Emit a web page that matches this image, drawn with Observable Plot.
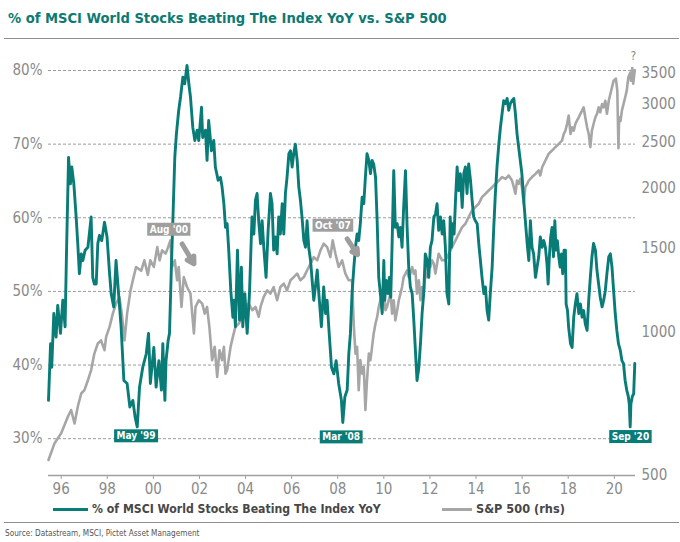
<!DOCTYPE html>
<html>
<head>
<meta charset="utf-8">
<script src="https://cdn.jsdelivr.net/npm/d3@7"></script>
<script src="https://cdn.jsdelivr.net/npm/@observablehq/plot@0.6"></script>
<style>
  html, body { margin: 0; padding: 0; background: #fff; }
  #wrap { position: relative; width: 680px; height: 542px; overflow: hidden;
          font-family: "Liberation Sans Narrow", "DejaVu Sans Condensed", sans-serif; }
  #title { position: absolute; left: 8px; top: 7px; font-weight: bold; font-size: 18px;
           color: #0d7a73; white-space: nowrap; line-height: 22px; }
  .hr { position: absolute; left: 4px; width: 675px; height: 0; border-top: 1.5px solid #8f8f8f; }
  #chart { position: absolute; left: 0; top: 45px; }
  .leg-line { position: absolute; height: 3px; }
  .leg-text { position: absolute; font-weight: bold; font-size: 15px; color: #474747;
              white-space: nowrap; line-height: 18px; }
  #source { position: absolute; left: 5px; top: 527px; font-size: 10px; color: #555;
            white-space: nowrap; line-height: 12px; }
</style>
</head>
<body>
<div id="wrap">
  <div id="title">% of MSCI World Stocks Beating The Index YoY vs. S&amp;P 500</div>
  <div class="hr" style="top:38px"></div>
  <div id="chart"></div>
  <div class="leg-line" style="left:53px; top:508px; width:35px; background:#0a7c78"></div>
  <div class="leg-text" id="leg1" style="left:92px; top:500px">% of MSCI World Stocks Beating The Index YoY</div>
  <div class="leg-line" style="left:442px; top:508px; width:30px; background:#a6a6a6"></div>
  <div class="leg-text" id="leg2" style="left:476px; top:500px">S&amp;P 500 (rhs)</div>
  <div class="hr" style="top:522px"></div>
  <div id="source">Source: Datastream, MSCI, Pictet Asset Management</div>
</div>
<script>
// ---------------- data ----------------
// % of MSCI World stocks beating the index YoY: [decimal year, %]
const msciBeating = [
[1995.45,35.2],[1995.54,42.9],[1995.59,39.7],[1995.68,47.0],[1995.78,43.8],[1995.85,48.1],[1995.97,44.3],[1996.07,48.8],[1996.17,45.2],[1996.23,55.1],[1996.32,68.2],[1996.40,64.6],[1996.46,66.9],[1996.55,64.6],[1996.65,60.1],[1996.72,56.5],[1996.79,52.4],[1996.87,55.1],[1996.94,54.2],[1997.04,55.6],[1997.16,56.0],[1997.30,60.1],[1997.37,51.9],[1997.44,51.0],[1997.52,51.0],[1997.59,56.5],[1997.66,57.6],[1997.76,56.9],[1997.88,59.4],[1997.99,57.4],[1998.10,52.4],[1998.17,49.7],[1998.28,47.9],[1998.38,54.2],[1998.49,49.7],[1998.60,45.2],[1998.72,37.9],[1998.86,37.5],[1998.98,34.3],[1999.11,35.2],[1999.21,32.9],[1999.30,31.6],[1999.40,37.0],[1999.54,39.7],[1999.69,41.5],[1999.79,44.3],
[1999.87,37.5],[2000.02,42.4],[2000.12,37.0],[2000.24,40.6],[2000.35,36.6],[2000.41,42.9],[2000.50,35.2],[2000.55,40.6],[2000.64,43.3],[2000.70,44.3],[2000.79,54.2],[2000.86,61.0],[2000.93,68.2],[2001.00,71.4],[2001.10,74.6],[2001.18,76.4],[2001.28,79.1],[2001.36,78.2],[2001.46,80.7],[2001.54,78.2],[2001.61,76.4],[2001.71,72.3],[2001.80,70.5],[2001.90,71.9],[2001.97,70.5],[2002.09,75.0],[2002.14,70.9],[2002.26,71.9],[2002.33,67.8],[2002.40,73.2],[2002.52,69.1],[2002.62,70.5],[2002.69,66.9],[2002.81,65.1],[2002.91,65.5],[2002.98,64.2],[2003.06,61.9],[2003.13,58.7],[2003.20,59.2],[2003.27,55.6],[2003.36,50.1],[2003.45,46.5],[2003.50,48.8],[2003.56,45.2],[2003.65,55.6],[2003.74,46.1],[2003.82,53.3],[2003.88,45.2],[2003.97,49.7],[2004.07,44.3],[2004.17,49.7],
[2004.28,60.1],[2004.36,57.8],[2004.43,62.4],[2004.50,63.3],[2004.57,59.6],[2004.65,56.5],[2004.72,59.6],[2004.79,56.0],[2004.89,51.9],[2004.98,58.3],[2005.08,63.3],[2005.15,61.9],[2005.22,55.6],[2005.30,57.4],[2005.37,55.1],[2005.44,60.1],[2005.51,57.8],[2005.59,61.9],[2005.66,57.8],[2005.73,63.3],[2005.80,65.5],[2005.88,68.7],[2005.95,69.1],[2006.02,66.9],[2006.09,68.7],[2006.16,70.0],[2006.24,67.8],[2006.31,64.2],[2006.38,62.4],[2006.45,60.1],[2006.53,56.9],[2006.60,56.0],[2006.67,59.6],[2006.74,56.0],[2006.82,54.2],[2006.89,51.5],[2006.96,48.8],[2007.03,50.6],[2007.11,52.9],[2007.18,49.7],[2007.29,45.2],[2007.39,50.6],[2007.47,47.0],[2007.54,48.8],[2007.61,45.2],[2007.73,39.7],[2007.83,38.8],[2007.93,40.6],[2008.04,37.5],[2008.16,35.2],[2008.22,32.2],[2008.31,35.7],
[2008.41,36.6],[2008.48,41.5],[2008.55,44.3],[2008.62,49.7],[2008.70,53.3],[2008.77,56.0],[2008.84,57.8],[2008.91,56.9],[2008.98,59.2],[2009.06,62.8],[2009.13,61.9],[2009.20,65.5],[2009.27,68.7],[2009.35,67.8],[2009.42,66.0],[2009.49,67.8],[2009.56,67.3],[2009.64,65.5],[2009.71,59.6],[2009.78,51.9],[2009.85,49.7],[2009.93,47.0],[2010.00,54.2],[2010.04,48.8],[2010.10,51.5],[2010.18,49.7],[2010.24,51.9],[2010.30,49.2],[2010.36,56.5],[2010.43,66.4],[2010.50,58.7],[2010.58,59.2],[2010.65,57.4],[2010.72,58.7],[2010.79,56.0],[2010.86,61.4],[2010.94,66.4],[2011.01,58.7],[2011.08,53.3],[2011.15,50.6],[2011.23,49.7],[2011.30,46.1],[2011.37,42.0],[2011.44,37.9],[2011.52,39.7],[2011.59,42.9],[2011.66,47.0],[2011.73,49.7],[2011.80,55.1],[2011.88,54.2],[2011.95,51.9],[2012.02,56.0],[2012.09,56.9],[2012.17,60.1],[2012.24,60.5],[2012.31,61.9],[2012.38,58.3],[2012.46,60.1],[2012.53,57.8],[2012.60,59.6],[2012.67,56.0],[2012.74,49.7],
[2012.82,48.3],[2012.88,60.1],[2012.93,56.0],[2012.99,59.2],[2013.05,57.8],[2013.11,62.4],[2013.18,66.9],[2013.25,63.7],[2013.32,66.0],[2013.40,61.4],[2013.47,66.0],[2013.54,66.9],[2013.61,63.3],[2013.68,67.3],[2013.76,65.1],[2013.83,62.4],[2013.90,60.1],[2013.97,59.6],[2014.05,59.2],[2014.12,56.5],[2014.19,54.2],[2014.26,51.9],[2014.34,49.7],[2014.41,50.6],[2014.48,47.4],[2014.55,46.1],[2014.62,49.7],[2014.70,53.3],[2014.77,58.7],[2014.84,63.3],[2014.91,66.9],[2014.99,70.0],[2015.06,72.3],[2015.13,74.1],[2015.20,75.9],[2015.28,75.5],[2015.35,76.2],[2015.42,74.6],[2015.49,75.5],[2015.56,75.9],[2015.64,76.2],[2015.71,74.1],[2015.78,71.4],[2015.85,69.6],[2015.92,67.8],[2015.99,66.0],[2016.07,62.4],[2016.14,59.6],[2016.22,56.5],[2016.29,54.2],[2016.36,59.6],[2016.43,56.0],[2016.50,55.1],[2016.58,51.9],[2016.65,53.3],[2016.72,54.7],[2016.79,57.4],[2016.87,56.0],[2016.94,56.9],
[2017.01,56.0],[2017.08,53.7],[2017.13,51.0],[2017.18,54.6],[2017.24,57.4],[2017.30,58.7],[2017.36,54.7],[2017.42,59.6],[2017.47,55.6],[2017.53,56.9],[2017.59,54.7],[2017.65,53.3],[2017.71,55.1],[2017.76,52.4],[2017.82,55.6],[2017.88,55.6],[2017.91,48.3],[2017.97,47.4],[2018.02,45.1],[2018.10,42.9],[2018.17,42.4],[2018.24,46.5],[2018.31,48.3],[2018.38,49.7],[2018.46,47.0],[2018.53,48.3],[2018.60,46.5],[2018.67,47.4],[2018.74,45.6],[2018.82,44.7],[2018.89,48.8],[2018.96,51.9],[2019.03,54.7],[2019.10,56.5],[2019.18,55.6],[2019.25,52.8],[2019.32,51.0],[2019.39,49.2],[2019.47,47.9],[2019.54,48.8],[2019.61,50.1],[2019.68,52.4],[2019.76,54.7],[2019.83,55.1],[2019.90,53.3],[2019.97,50.1],[2020.04,47.0],[2020.11,44.7],[2020.18,42.9],[2020.26,42.0],[2020.33,40.6],[2020.40,40.2],[2020.47,37.9],[2020.54,36.6],[2020.61,35.7],[2020.65,34.7],[2020.69,31.6],[2020.72,34.7],[2020.78,35.7],[2020.84,36.1],[2020.89,40.2]
];

// S&P 500 level (right-hand, log scale): [decimal year, index level]
const sp500 = [
[1995.45,539],[1995.71,584],[1996.00,613],[1996.29,664],[1996.43,686],[1996.58,643],[1996.72,697],[1996.87,743],[1997.01,755],[1997.16,792],[1997.30,832],[1997.44,901],[1997.59,946],[1997.73,960],[1997.88,916],[1997.95,977],[1998.10,1025],[1998.24,1093],[1998.38,1147],[1998.53,1184],[1998.63,1093],[1998.75,960],[1998.86,1093],[1999.01,1223],[1999.11,1284],[1999.25,1369],[1999.47,1344],[1999.61,1414],[1999.76,1318],[1999.87,1414],
[2000.02,1369],[2000.17,1507],[2000.27,1414],[2000.38,1484],[2000.53,1460],[2000.64,1507],[2000.74,1557],[2000.81,1369],[2000.93,1414],[2001.03,1284],[2001.10,1369],[2001.22,1129],[2001.32,1304],[2001.46,1243],[2001.61,1204],[2001.76,993],[2001.83,1129],[2001.97,1166],[2002.12,1147],[2002.23,1093],[2002.33,1129],[2002.43,1025],[2002.55,873],[2002.66,931],[2002.77,805],[2002.87,916],[2002.98,873],[2003.06,931],[2003.13,818],[2003.20,832],[2003.35,931],[2003.45,977],[2003.56,1025],[2003.71,1042],[2003.85,1076],[2004.00,1129],
[2004.14,1147],[2004.29,1111],[2004.43,1129],[2004.57,1076],[2004.65,1129],[2004.79,1185],[2004.94,1223],[2005.08,1204],[2005.22,1243],[2005.37,1166],[2005.51,1243],[2005.66,1263],[2005.80,1223],[2005.95,1284],[2006.09,1304],[2006.24,1326],[2006.38,1284],[2006.53,1304],[2006.67,1347],[2006.82,1391],[2006.96,1436],[2007.11,1414],[2007.25,1484],[2007.39,1532],[2007.54,1507],[2007.68,1436],[2007.78,1557],[2007.90,1460],[2008.04,1369],[2008.19,1414],[2008.33,1326],[2008.48,1284],
[2008.62,1284],[2008.70,1025],[2008.77,901],[2008.84,931],[2008.91,755],[2008.98,873],[2009.06,818],[2009.13,845],[2009.20,686],[2009.27,792],[2009.35,901],[2009.42,873],[2009.49,931],[2009.56,993],[2009.64,1042],[2009.71,1076],[2009.78,1129],[2009.85,1166],[2009.93,1204],[2010.00,1243],[2010.07,1111],[2010.14,1129],[2010.21,1166],[2010.29,1204],[2010.36,1093],[2010.43,1166],[2010.50,1058],[2010.58,1111],[2010.65,1166],[2010.72,1204],[2010.79,1243],[2010.86,1304],[2010.94,1326],[2011.01,1347],[2011.08,1304],[2011.15,1326],[2011.23,1369],[2011.30,1326],[2011.37,1347],[2011.44,1204],[2011.52,1284],[2011.59,1166],[2011.66,1243],[2011.73,1204],[2011.80,1326],[2011.88,1304],[2011.95,1414],[2012.02,1369],[2012.09,1414],[2012.17,1391],[2012.24,1326],[2012.31,1391],[2012.38,1460],[2012.53,1414],[2012.67,1414],
[2012.82,1460],[2012.96,1507],[2013.11,1557],[2013.25,1607],[2013.40,1660],[2013.54,1687],[2013.68,1742],[2013.83,1799],[2013.97,1828],[2014.12,1858],[2014.26,1919],[2014.41,1950],[2014.55,1981],[2014.70,2013],[2014.84,2046],[2014.99,2079],[2015.13,2114],[2015.28,2096],[2015.42,2130],[2015.56,2079],[2015.64,2013],[2015.71,1950],[2015.78,2079],[2015.85,2046],[2015.92,2096],[2015.99,2013],[2016.07,1858],[2016.14,2013],[2016.22,2046],[2016.29,2079],[2016.43,2114],[2016.58,2147],[2016.72,2183],[2016.79,2130],[2016.87,2217],
[2017.01,2290],[2017.15,2364],[2017.30,2403],[2017.44,2442],[2017.59,2481],[2017.73,2521],[2017.81,2604],[2017.88,2646],[2017.95,2732],[2018.02,2845],[2018.10,2604],[2018.17,2689],[2018.24,2646],[2018.31,2732],[2018.38,2777],[2018.46,2822],[2018.53,2870],[2018.60,2914],[2018.67,2961],[2018.74,2822],[2018.82,2689],[2018.89,2604],[2018.96,2442],[2019.03,2646],[2019.10,2732],[2019.18,2822],[2019.25,2870],[2019.32,2961],[2019.39,2890],[2019.47,3008],[2019.54,2961],[2019.61,3057],[2019.68,2870],[2019.76,3057],[2019.83,3157],[2019.90,3261],[2019.97,3368],[2020.07,3400],[2020.13,3210],[2020.18,2430],[2020.21,2822],[2020.27,2770],[2020.33,2914],[2020.40,3008],[2020.47,3105],[2020.54,3210],[2020.61,3426],[2020.69,3500],[2020.72,3368],[2020.78,3580],[2020.82,3320],[2020.87,3480],[2020.89,3540]
];

// axis ticks
const xTickYears  = [1996, 1998, 2000, 2002, 2004, 2006, 2008, 2010, 2012, 2014, 2016, 2018, 2020];
const xTickLabels = ["96", "98", "00", "02", "04", "06", "08", "10", "12", "14", "16", "18", "20"];
const pctTicks    = [30, 40, 50, 60, 70, 80];
const spxTicks    = [500, 1000, 1500, 2000, 2500, 3000, 3500];

// annotations: [decimal year, % position, label]
const lowLabels   = [[1999.25, 30.35, "May '99"], [2008.15, 30.2, "Mar '08"], [2020.70, 30.25, "Sep '20"]];
const peakLabels  = [[2000.67, 58.4, "Aug '00"], [2007.79, 58.95, "Oct '07"]];
const peakArrows  = [[2001.25, 56.45, 2001.76, 53.75], [2008.41, 57.15, 2008.86, 55.0]];
const questionMark = [[2020.83, 81.9, "?"]];

// ---------------- chart ----------------
const TEAL = "#0a7c78";
const GREY = "#a6a6a6";
const FONT = '"Liberation Sans Narrow", "DejaVu Sans Condensed", sans-serif';

// right-hand log axis mapped onto the left % scale: 500 at the bottom (25%), 3500 at 79.7%
const PCT_LO = 25, PCT_HI = 79.7, SPX_LO = 500, SPX_HI = 3500;
const spxToPct = v => PCT_LO + Math.log(v / SPX_LO) / Math.log(SPX_HI / SPX_LO) * (PCT_HI - PCT_LO);
const spxTickPcts = spxTicks.map(spxToPct);

const chart = Plot.plot({
  width: 680,
  height: 455,
  marginLeft: 48,
  marginRight: 45,
  marginTop: 25,
  marginBottom: 25,
  x: {domain: [1995.45, 2020.92]},
  y: {domain: [25, 80]},
  style: {fontFamily: FONT, fontSize: "15px", color: "#8a8a8a", background: "transparent", overflow: "visible"},
  marks: [
    Plot.ruleY(pctTicks, {stroke: "#9c9c9c", strokeWidth: 1, strokeDasharray: "3,2"}),
    Plot.ruleY([25], {stroke: "#a0a0a0", strokeWidth: 1.3}),
    Plot.axisX({ticks: xTickYears, tickFormat: d => xTickLabels[xTickYears.indexOf(d)],
                tickSize: 4, tickPadding: 4, stroke: "#a0a0a0", label: null, fill: "#8a8a8a"}),
    Plot.axisY({ticks: pctTicks, tickFormat: d => d + "%", anchor: "left",
                tickSize: 0, tickPadding: 6, label: null, fill: "#8a8a8a"}),
    Plot.axisY({ticks: spxTickPcts, tickFormat: d => String(spxTicks[spxTickPcts.indexOf(d)]), anchor: "right",
                tickSize: 0, tickPadding: 6, label: null, fill: "#8a8a8a"}),
    Plot.line(sp500, {x: d => d[0], y: d => spxToPct(d[1]), stroke: GREY, strokeWidth: 2.6}),
    Plot.line(msciBeating, {x: d => d[0], y: d => d[1], stroke: TEAL, strokeWidth: 2.9}),
    Plot.arrow(peakArrows, {x1: d => d[0], y1: d => d[1], x2: d => d[2], y2: d => d[3],
                            stroke: "#9d9d9d", strokeWidth: 5, headLength: 9, bend: 0}),
    Plot.text(lowLabels, {x: d => d[0], y: d => d[1], text: d => d[2], fill: "white",
                          fontWeight: "bold", fontSize: 10}),
    Plot.text(peakLabels, {x: d => d[0], y: d => d[1], text: d => d[2], fill: "white",
                           fontWeight: "bold", fontSize: 10}),
    Plot.text(questionMark, {x: d => d[0], y: d => d[1], text: d => d[2], fill: "#8a8a8a", fontSize: 12})
  ]
});

document.getElementById("chart").appendChild(chart);

// label boxes behind the annotation texts (found by their text)
function boxes(labels, color) {
  const wanted = new Set(labels.map(d => d[2]));
  chart.querySelectorAll("text").forEach(t => {
    if (!wanted.has(t.textContent)) return;
    const b = t.getBBox();
    const r = document.createElementNS("http://www.w3.org/2000/svg", "rect");
    r.setAttribute("x", b.x - 2.5);
    r.setAttribute("y", b.y - 1);
    r.setAttribute("width", b.width + 5);
    r.setAttribute("height", b.height + 2);
    r.setAttribute("fill", color);
    const tr = t.getAttribute("transform");
    if (tr) r.setAttribute("transform", tr);
    t.parentNode.insertBefore(r, t);
  });
}
boxes(lowLabels, TEAL);
boxes(peakLabels, "#9f9f9f");

// fit text widths to the reference
function fitWidth(id, target) {
  const el = document.getElementById(id);
  const w = el.getBoundingClientRect().width;
  const fs = parseFloat(getComputedStyle(el).fontSize);
  el.style.fontSize = (fs * target / w) + "px";
}
fitWidth("title", 439);
fitWidth("leg1", 289);
fitWidth("leg2", 89);
fitWidth("source", 195);
</script>
</body>
</html>
